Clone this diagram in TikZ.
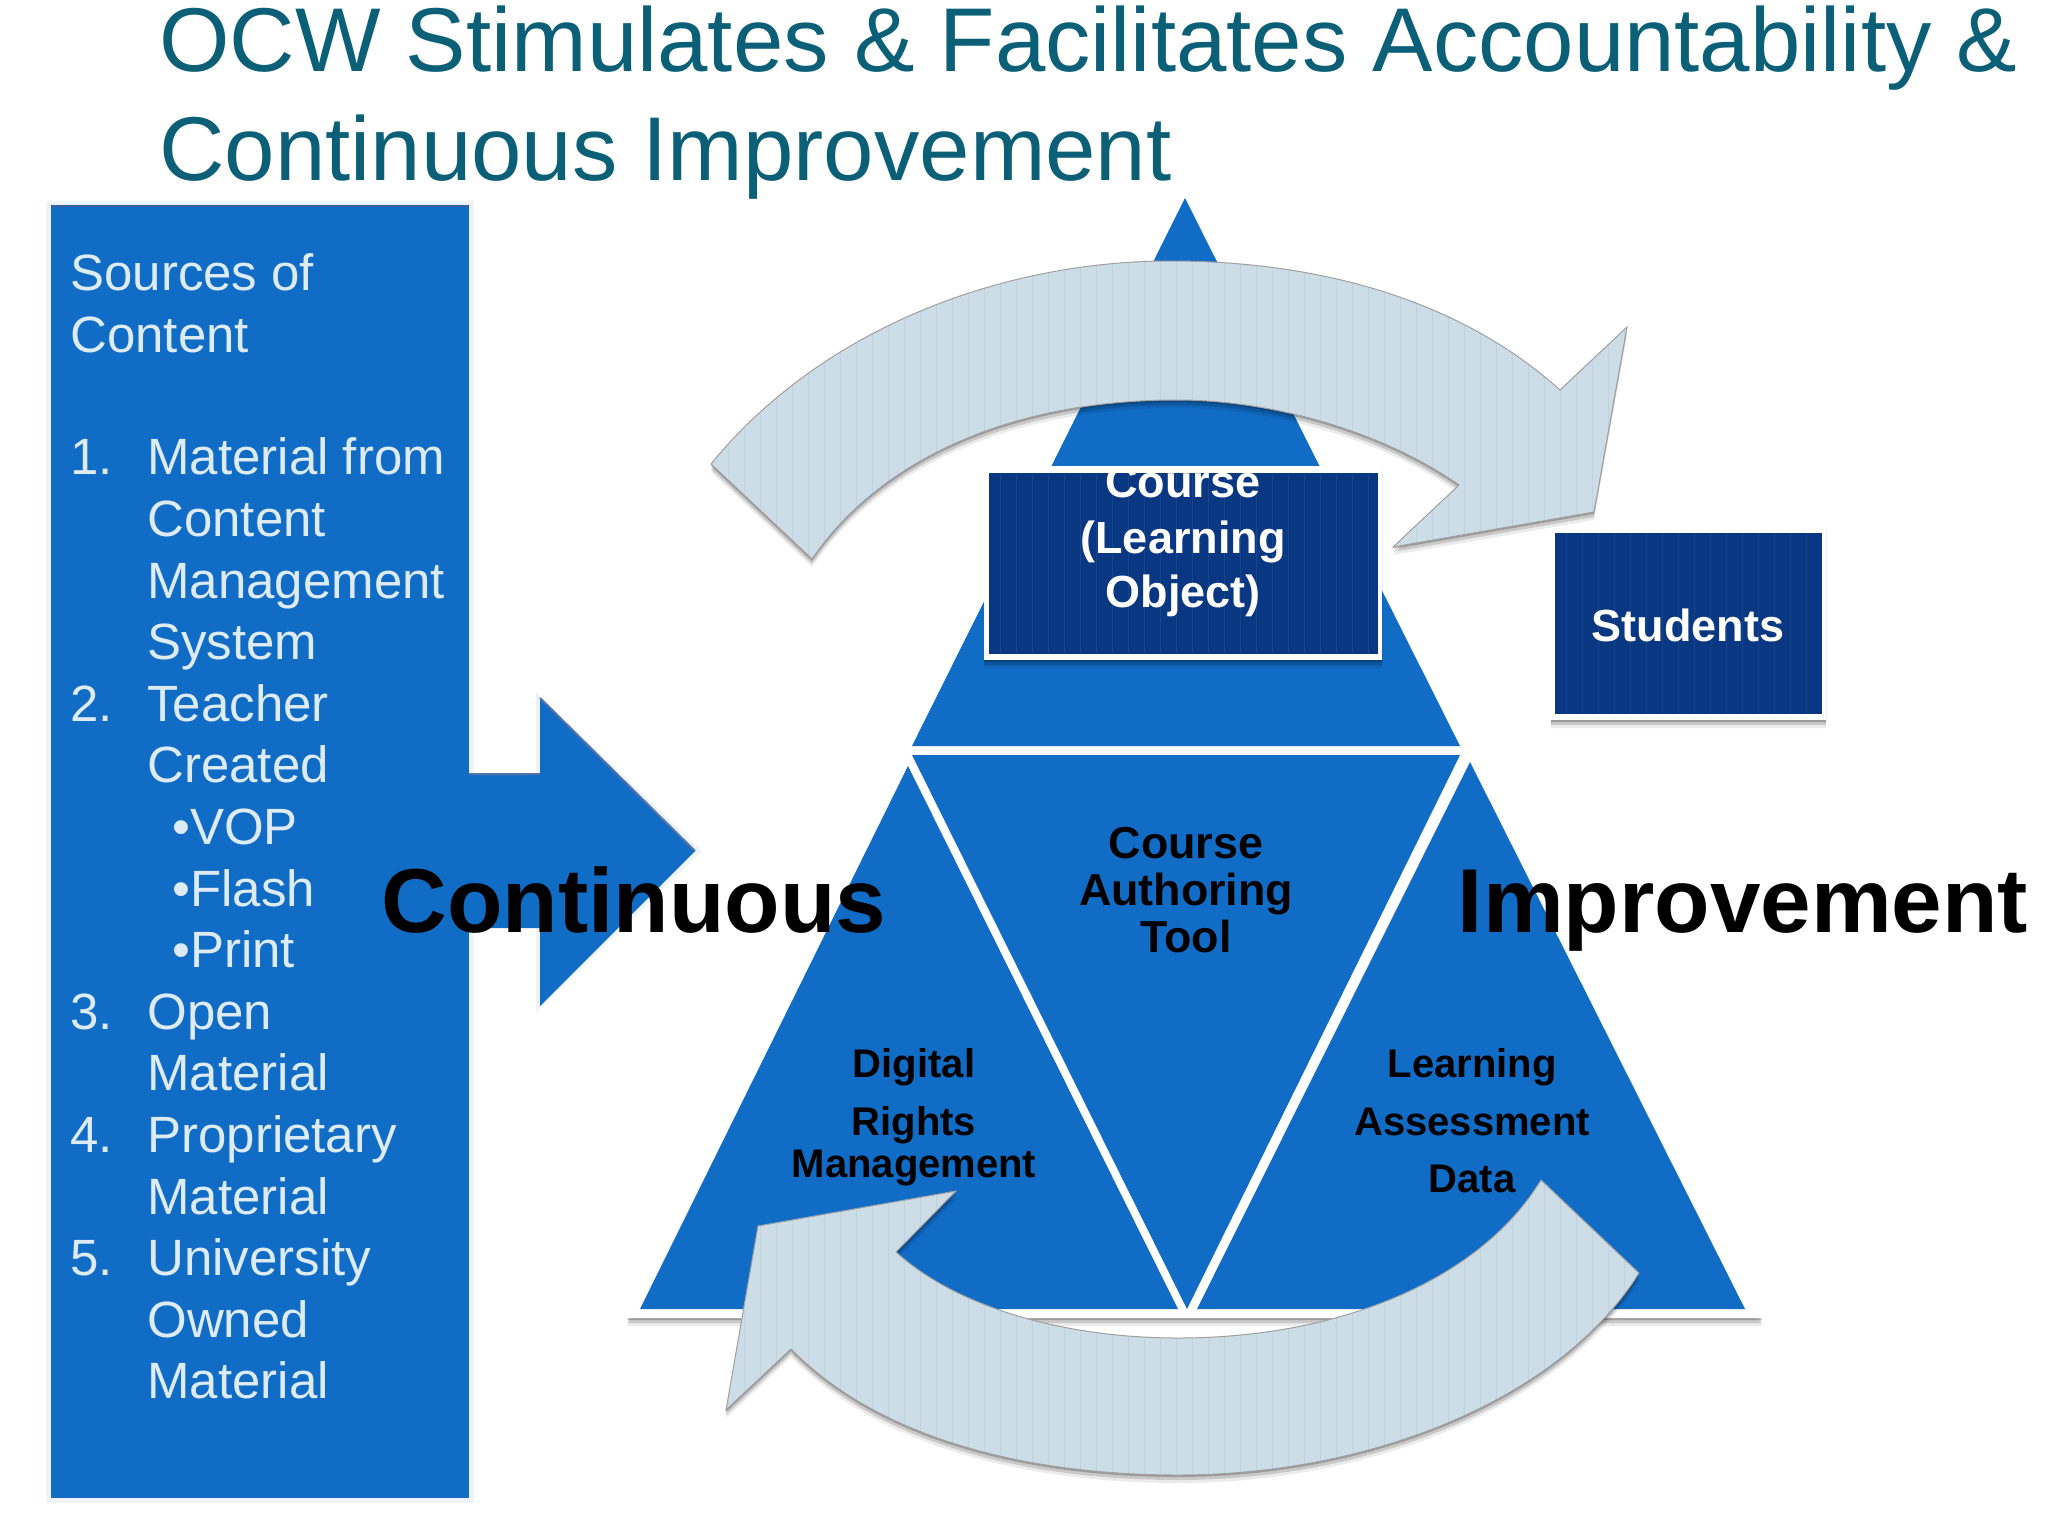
\documentclass[tikz,border=0pt]{standalone}
\usepackage{fontspec}
\setmainfont{Liberation Sans}
\definecolor{titleteal}{HTML}{0B6078}
\definecolor{triblue}{HTML}{116CC6}
\definecolor{navy}{HTML}{0A3782}
\definecolor{navystripe}{HTML}{14458D}
\definecolor{arrowfill}{HTML}{CDDDE7}
\definecolor{arrowstripe}{HTML}{BFD2DE}
\definecolor{paneltext}{HTML}{DDEBF4}
\definecolor{halo}{HTML}{EDF3F9}
\newcommand{\fsz}[1]{\fontsize{#1}{#1}\selectfont}
\newcommand{\toparrowpath}{(711,464) .. controls (820,330) and (1000,261) .. (1170,261) .. controls (1320,261) and (1460,300) .. (1560,390) -- (1627,327) -- (1594,512) -- (1393,547) -- (1459,485) .. controls (1380,430) and (1270,400) .. (1177,400) .. controls (1010,400) and (880,460) .. (812,559) -- cycle}
\newcommand{\botarrowpath}{(1541,1180) .. controls (1480,1280) and (1340,1338) .. (1178,1338) .. controls (1070,1338) and (960,1310) .. (896,1252) -- (956,1191) -- (758,1226) -- (726,1410) -- (791,1349) .. controls (880,1440) and (1030,1475) .. (1178,1475) .. controls (1370,1475) and (1560,1400) .. (1639,1273) -- cycle}
\newcommand{\softlayers}[1]{%
  \begin{scope}[transparency group,opacity=.22]
    \fill[black,yshift=-1pt] #1;
  \end{scope}
  \begin{scope}[transparency group,opacity=.14]
    \fill[black,yshift=-2.5pt] #1;
  \end{scope}
  \begin{scope}[transparency group,opacity=.08]
    \fill[black,yshift=-4pt] #1;
  \end{scope}}
\tikzset{
  titletext/.style={anchor=base west,inner sep=0pt,text=titleteal,font=\fsz{45.3}},
  paneltxt/.style={anchor=base west,inner sep=0pt,text=paneltext,font=\fsz{25.5}},
  bigword/.style={anchor=base,text=black,font=\fsz{45.4}\bfseries},
  midlabel/.style={anchor=base,text=black,font=\fsz{22.4}\bfseries},
  lowlabel/.style={anchor=base,text=black,font=\fsz{20}\bfseries},
  boxlabel/.style={anchor=base,text=white,font=\fsz{22.5}\bfseries},
  bluepart/.style={fill=triblue,draw=none},
  stripeline/.style={draw=arrowstripe,line width=.5pt},
  navyline/.style={draw=navystripe,line width=.5pt},
  rimline/.style={draw=gray!75,line width=.5pt}
}
\begin{document}
\begin{tikzpicture}[x=0.5pt,y=-0.5pt]
\useasboundingbox (0,0) rectangle (2048,1536);
\fill[white] (0,0) rectangle (2048,1536);

% title
\node[titletext] (title1) at (159,72) {OCW Stimulates \& Facilitates Accountability \&};
\node[titletext] (title2) at (159,180) {Continuous Improvement};

% left panel and block arrow
\fill[halo] (46,201) rectangle (474,1503);
\fill[halo] (536,692) -- (702,851) -- (536,1012) -- cycle;
\fill[triblue] (51,206) rectangle (469,1498);
\draw[navy!80,line width=1pt] (51,206) -- (469,206);
\fill[triblue] (465,774) -- (540,774) -- (540,698) -- (695,851) -- (540,1006) -- (540,928) -- (465,928) -- cycle;
\draw[navy!70,line width=1pt] (469,774) -- (540,774) (540,698) -- (695,851);

\node[paneltxt] (h1) at (70,290) {Sources of};
\node[paneltxt] (h2) at (70,352) {Content};
\foreach \nm/\col/\row/\txt in {
 a1/70/3/1.,a2/147/3/Material from,a3/147/4/Content,a4/147/5/Management,a5/147/6/System,
 b1/70/7/2.,b2/147/7/Teacher,b3/147/8/Created,b4/172/9/•VOP,b5/172/10/•Flash,b6/172/11/•Print,
 c1/70/12/3.,c2/147/12/Open,c3/147/13/Material,
 d1/70/14/4.,d2/147/14/Proprietary,d3/147/15/Material,
 e1/70/16/5.,e2/147/16/University,e3/147/17/Owned,e4/147/18/Material}{
  \node[paneltxt] (\nm) at (\col,290+61.6*\row) {\txt};
}

% pyramid
\begin{scope}
  \clip (600,1300) rectangle (1800,1340);
  \softlayers{(1185,176) -- (1762,1318) -- (627,1318) -- cycle}
\end{scope}
\fill[white] (1185,176) -- (1762,1318) -- (627,1318) -- cycle;
\fill[bluepart] (1185,198) -- (1460,746) -- (912,746) -- cycle;
\fill[bluepart] (908,766) -- (1178,1309) -- (640,1309) -- cycle;
\fill[bluepart] (1470,762) -- (1745,1309) -- (1197,1309) -- cycle;
\fill[bluepart] (912,755) -- (1460,755) -- (1187,1309) -- cycle;

% course box
\softlayers{(984,466) rectangle (1382,660)}
\fill[white] (984,466) rectangle (1382,660);
\fill[navy] (989,473) rectangle (1378,654);
\begin{scope}
  \clip (989,473) rectangle (1378,654);
  \foreach \x in {1000,1016,...,1376} \draw[navyline] (\x,473) -- (\x,654);
  \node[boxlabel] (course1) at (1183,497) {Course};
  \node[boxlabel] (course2) at (1183,553) {(Learning};
  \node[boxlabel] (course3) at (1183,607) {Object)};
\end{scope}

% students box
\softlayers{(1551,527) rectangle (1826,720)}
\fill[white] (1551,527) rectangle (1826,720);
\fill[navy] (1555,533) rectangle (1822,714);
\foreach \x in {1566,1582,...,1820} \draw[navyline] (\x,533) -- (\x,714);
\node[boxlabel] (students) at (1688,641) {Students};

% top loop arrow
\softlayers{\toparrowpath}
\fill[arrowfill] \toparrowpath;
\begin{scope}
  \clip \toparrowpath;
  \foreach \x in {712,728,...,1630} \draw[stripeline] (\x,255) -- (\x,560);
\end{scope}
\draw[rimline] \toparrowpath;

% bottom loop arrow
\softlayers{\botarrowpath}
\fill[arrowfill] \botarrowpath;
\begin{scope}
  \clip \botarrowpath;
  \foreach \x in {728,744,...,1640} \draw[stripeline] (\x,1175) -- (\x,1480);
\end{scope}
\draw[rimline] \botarrowpath;

% pyramid labels
\node[midlabel] (auth1) at (1186,858) {Course};
\node[midlabel] (auth2) at (1186,905) {Authoring};
\node[midlabel] (auth3) at (1186,952) {Tool};
\node[lowlabel] (drm1) at (914,1077) {Digital};
\node[lowlabel] (drm2) at (914,1135) {Rights};
\node[lowlabel] (drm3) at (914,1177) {Management};
\node[lowlabel] (lad1) at (1472,1077) {Learning};
\node[lowlabel] (lad2) at (1472,1135) {Assessment};
\node[lowlabel] (lad3) at (1472,1192) {Data};

% big words
\node[bigword] (cont) at (634,932) {Continuous};
\node[bigword] (impr) at (1743,932) {Improvement};
\end{tikzpicture}
\end{document}
